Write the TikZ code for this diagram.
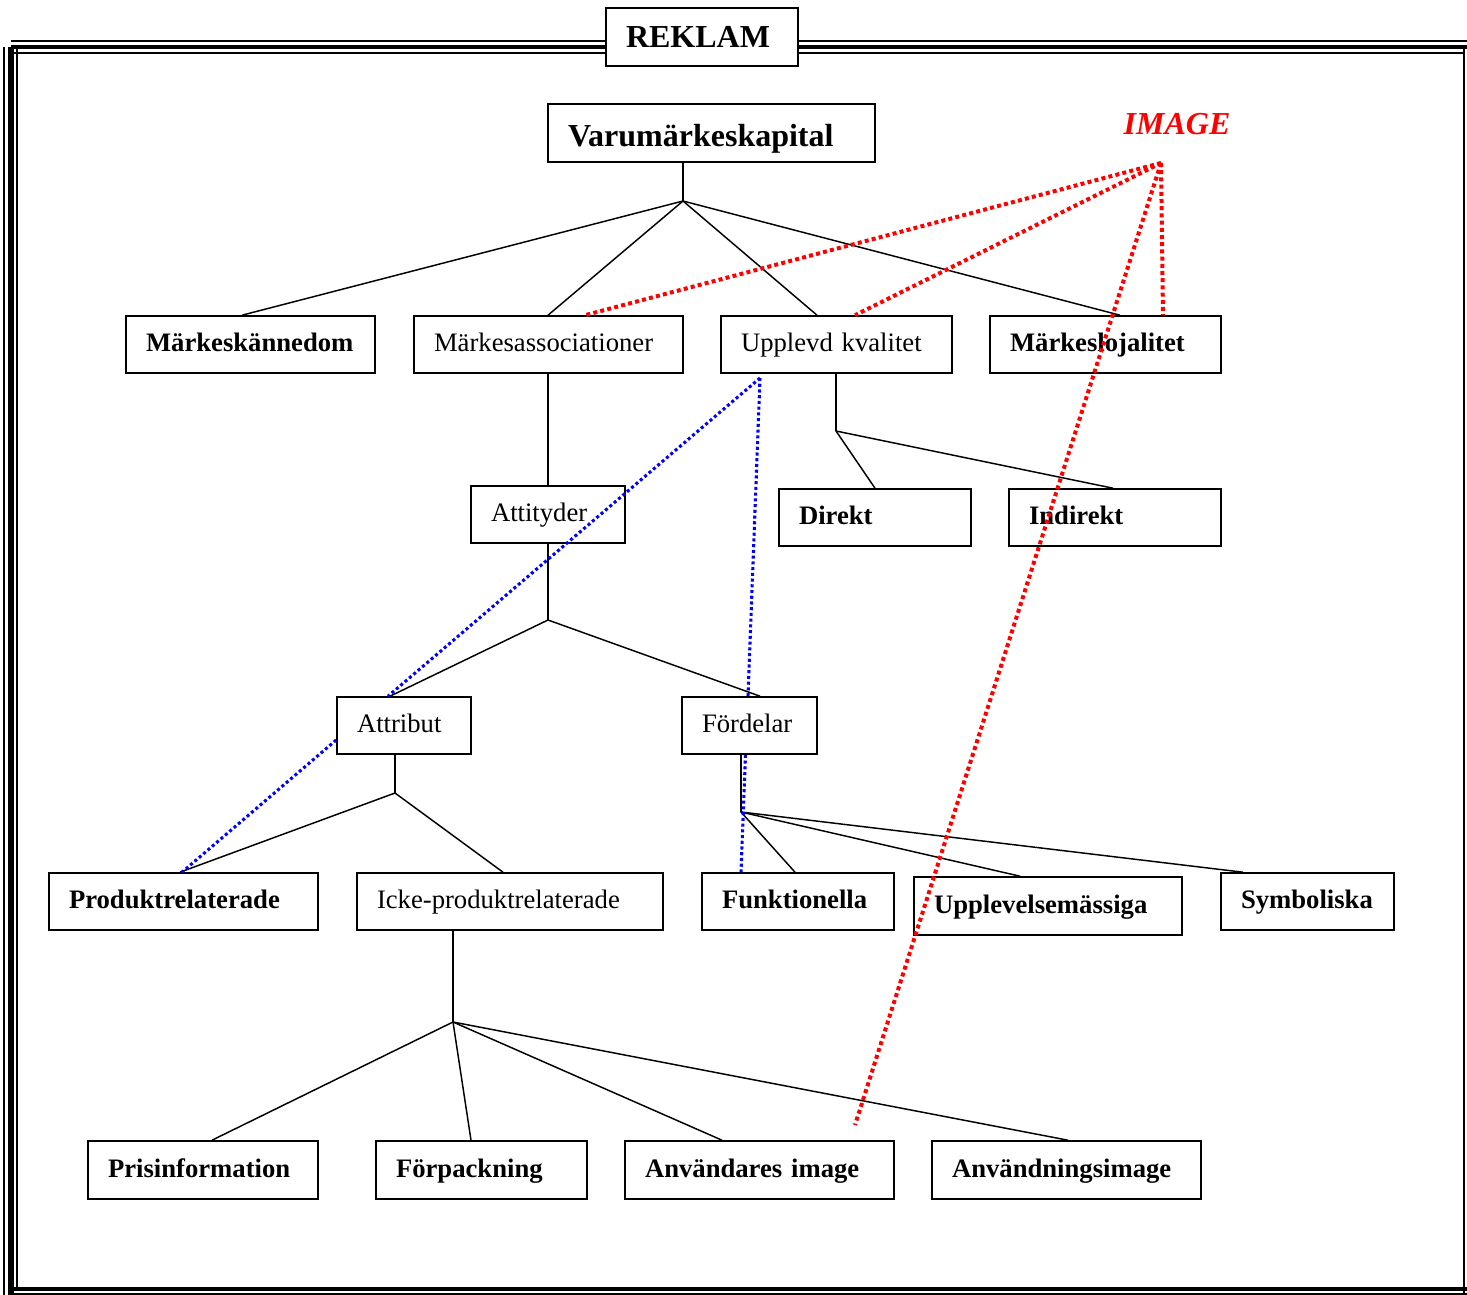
\documentclass[tikz,border=0pt]{standalone}
\usepackage{fontspec}
\setmainfont{Liberation Serif}
\begin{document}
\begin{tikzpicture}[x=0.75pt,y=-0.75pt,
  box/.style={draw,line width=1.2pt,fill=white,inner xsep=15pt,inner ysep=0pt,
    align=left,font=\fontsize{20}{22}\selectfont,text height=15pt,text depth=3.8pt},
  bf/.style={font=\fontsize{20}{22}\selectfont\bfseries},
  big/.style={font=\fontsize{24}{26}\selectfont\bfseries},
  conn/.style={line width=1.1pt},
  reddot/.style={red,line width=3pt,dash pattern=on 3pt off 2.4pt},
  bluedot/.style={blue,line width=2.3pt,dash pattern=on 2.3pt off 2pt},
  frameline/.style={line width=#1}]
\useasboundingbox (0,0) rectangle (1467,1295);

% framing rules round the page
\draw[frameline=2.2pt] (11,41) -- (1467,41);
\draw[frameline=3.2pt] (11,47) -- (1467,47);
\draw[frameline=2.2pt] (13,53) -- (1464,53);
\draw[frameline=2.2pt] (4,47) -- (4,1295);
\draw[frameline=3.8pt] (11,47) -- (11,1295);
\draw[frameline=2.2pt] (17,47) -- (17,1290);
\draw[frameline=2.2pt] (1464,47) -- (1464,1293);
\draw[frameline=3.2pt] (10,1289) -- (1467,1289);
\draw[frameline=2pt]   (13,1294) -- (1467,1294);

% box: style, name, x1, y1, x2, y2, text
\newcommand\bx[7]{%
  \pgfmathsetmacro\cx{(#3+#5)/2}%
  \pgfmathsetmacro\cy{(#4+#6)/2}%
  \pgfmathsetmacro\bw{(#5-#3)*0.75}%
  \pgfmathsetmacro\bh{(#6-#4)*0.75}%
  \pgfmathsetmacro\tw{(#5-#3)*0.75-30}%
  \node[box,#1,minimum width=\bw pt,minimum height=\bh pt,text width=\tw pt] (#2) at (\cx,\cy) {#7};}

\bx{big,text height=17pt,text depth=1.5pt}{rek}{606}{8}{798}{66}{REKLAM}
\bx{big,text height=20pt,text depth=0pt}{vmk}{548}{104}{875}{162}{Varumärkeskapital}
\node[red,font=\fontsize{24}{26}\selectfont\bfseries\itshape] (img) at (1177,124) {IMAGE};

\bx{bf}{mkd}{126}{316}{375}{373}{Märkeskännedom}
\bx{}{mas}{414}{316}{683}{373}{Märkesassociationer}
\bx{}{uk}{721}{316}{952}{373}{Upplevd kvalitet}
\bx{bf}{mlo}{990}{316}{1221}{373}{Märkeslojalitet}

\bx{}{att}{471}{486}{625}{543}{Attityder}
\bx{bf}{dir}{779}{489}{971}{546}{Direkt}
\bx{bf}{ind}{1009}{489}{1221}{546}{Indirekt}

\bx{}{atr}{337}{697}{471}{754}{Attribut}
\bx{}{for}{682}{697}{817}{754}{Fördelar}

\bx{bf}{prod}{49}{873}{318}{930}{Produktrelaterade}
\bx{}{icke}{357}{873}{663}{930}{Icke-produktrelaterade}
\bx{bf}{funk}{702}{873}{894}{930}{Funktionella}
\bx{bf}{uppl}{914}{877}{1182}{935}{Upplevelsemässiga}
\bx{bf}{symb}{1221}{873}{1394}{930}{Symboliska}

\bx{bf}{pris}{88}{1141}{318}{1199}{Prisinformation}
\bx{bf}{forp}{376}{1141}{587}{1199}{Förpackning}
\bx{bf}{anvi}{625}{1141}{894}{1199}{Användares image}
\bx{bf}{anvn}{932}{1141}{1201}{1199}{Användningsimage}

% branching points
\coordinate (j0) at (683,201);
\coordinate (j1) at (836,431);
\coordinate (j2) at (548,620);
\coordinate (j3) at (395,793);
\coordinate (j4) at (741,812);
\coordinate (j5) at (453,1022);
\coordinate (im) at (1161,163);
\coordinate (bq) at (760,378);
\coordinate (rend) at (855,1125);

% tree connectors
\draw[conn] (vmk.south -| j0) -- (j0);
\draw[conn] (j0) -- (mkd.north -| 242,0);
\draw[conn] (j0) -- (mas.north -| 548,0);
\draw[conn] (j0) -- (uk.north -| 817,0);
\draw[conn] (j0) -- (mlo.north -| 1120,0);

\draw[conn] (mas.south -| 548,0) -- (att.north -| 548,0);

\draw[conn] (uk.south -| j1) -- (j1);
\draw[conn] (j1) -- (dir.north -| 875,0);
\draw[conn] (j1) -- (ind.north -| 1113,0);

\draw[conn] (att.south -| j2) -- (j2);
\draw[conn] (j2) -- (atr.north -| 390,0);
\draw[conn] (j2) -- (for.north -| 760,0);

\draw[conn] (atr.south -| j3) -- (j3);
\draw[conn] (j3) -- (prod.north -| 180,0);
\draw[conn] (j3) -- (icke.north -| 503,0);

\draw[conn] (for.south -| j4) -- (j4);
\draw[conn] (j4) -- (funk.north -| 795,0);
\draw[conn] (j4) -- (uppl.north -| 1020,0);
\draw[conn] (j4) -- (symb.north -| 1243,0);

\draw[conn] (icke.south -| j5) -- (j5);
\draw[conn] (j5) -- (pris.north -| 212,0);
\draw[conn] (j5) -- (forp.north -| 471,0);
\draw[conn] (j5) -- (anvi.north -| 722,0);
\draw[conn] (j5) -- (anvn.north -| 1068,0);

% image links
\draw[reddot] (im) -- (mas.north -| 585,0);
\draw[reddot] (im) -- (uk.north -| 855,0);
\draw[reddot] (im) -- (mlo.north -| 1163,0);
\draw[reddot] (im) -- (rend);

% quality links
\draw[bluedot] (bq) -- (atr.north -| 388,0);
\draw[bluedot] (atr.west |- 0,740) -- (prod.north -| 182,0);
\draw[bluedot] (bq) -- (for.north -| 748,0);
\draw[bluedot] (for.south -| 745.5,0) -- (funk.north -| 741,0);
\end{tikzpicture}
\end{document}
